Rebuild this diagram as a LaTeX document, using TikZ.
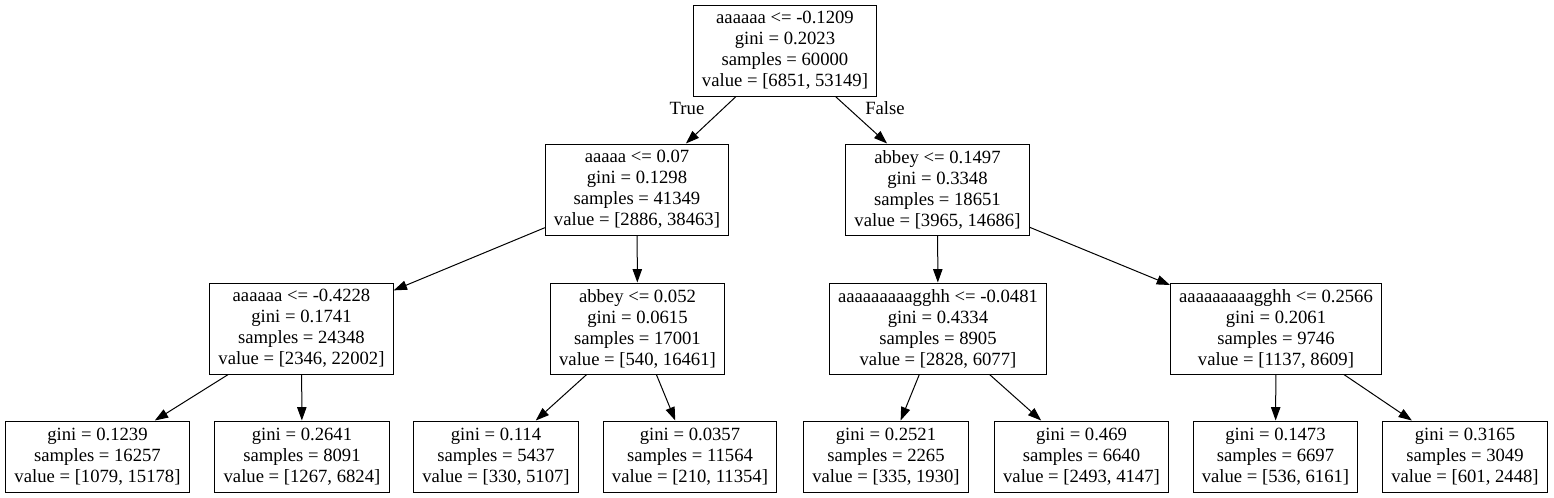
\documentclass[tikz,border=0pt]{standalone}
\usepackage{fontspec}
\setmainfont{Liberation Serif}
\usetikzlibrary{arrows.meta}

\begin{document}
\begin{tikzpicture}[x=0.75pt,y=-0.75pt,
    box/.style={draw, line width=0.75pt, align=center, inner xsep=6.5pt, inner ysep=0pt,
        font=\fontsize{14}{15.75}\selectfont},
    split/.style={box, minimum height=68.25pt},
    leaf/.style={box, minimum height=53.25pt},
    edge/.style={line width=0.75pt, -{Triangle[length=10pt,width=7pt]}}]
    \useasboundingbox (0,0) rectangle (1554,497);
    % root and first split
    \node[split] (N0) at (785,50.5) {aaaaaa <= -0.1209\\gini = 0.2023\\samples = 60000\\value = [6851, 53149]};
    \node[split] (N1) at (637,189.5) {aaaaa <= 0.07\\gini = 0.1298\\samples = 41349\\value = [2886, 38463]};
    \node[split] (N8) at (937.5,189.5) {abbey <= 0.1497\\gini = 0.3348\\samples = 18651\\value = [3965, 14686]};
    % second level
    \node[split] (N2) at (301.5,328.5) {aaaaaa <= -0.4228\\gini = 0.1741\\samples = 24348\\value = [2346, 22002]};
    \node[split] (N5) at (637.5,328.5) {abbey <= 0.052\\gini = 0.0615\\samples = 17001\\value = [540, 16461]};
    \node[split] (N9) at (938,328.5) {aaaaaaaaagghh <= -0.0481\\gini = 0.4334\\samples = 8905\\value = [2828, 6077]};
    \node[split] (N12) at (1276,328.5) {aaaaaaaaagghh <= 0.2566\\gini = 0.2061\\samples = 9746\\value = [1137, 8609]};
    % leaves
    \node[leaf] (N3) at (97.5,456.5) {gini = 0.1239\\samples = 16257\\value = [1079, 15178]};
    \node[leaf] (N4) at (302,456.5) {gini = 0.2641\\samples = 8091\\value = [1267, 6824]};
    \node[leaf] (N6) at (496,456.5) {gini = 0.114\\samples = 5437\\value = [330, 5107]};
    \node[leaf] (N7) at (690,456.5) {gini = 0.0357\\samples = 11564\\value = [210, 11354]};
    \node[leaf] (N10) at (886,456.5) {gini = 0.2521\\samples = 2265\\value = [335, 1930]};
    \node[leaf] (N11) at (1081.5,456.5) {gini = 0.469\\samples = 6640\\value = [2493, 4147]};
    \node[leaf] (N13) at (1275.5,456.5) {gini = 0.1473\\samples = 6697\\value = [536, 6161]};
    \node[leaf] (N14) at (1465,456.5) {gini = 0.3165\\samples = 3049\\value = [601, 2448]};
    % edges
    \draw[edge] (N0)--(N1);
    \draw[edge] (N0)--(N8);
    \draw[edge] (N1)--(N2);
    \draw[edge] (N1)--(N5);
    \draw[edge] (N8)--(N9);
    \draw[edge] (N8)--(N12);
    \draw[edge] (N2)--(N3);
    \draw[edge] (N2)--(N4);
    \draw[edge] (N5)--(N6);
    \draw[edge] (N5)--(N7);
    \draw[edge] (N9)--(N10);
    \draw[edge] (N9)--(N11);
    \draw[edge] (N12)--(N13);
    \draw[edge] (N12)--(N14);
    \node[font=\fontsize{14}{15.75}\selectfont] (T) at (687,108) {True};
    \node[font=\fontsize{14}{15.75}\selectfont] (F) at (885,108) {False};
\end{tikzpicture}
\end{document}
